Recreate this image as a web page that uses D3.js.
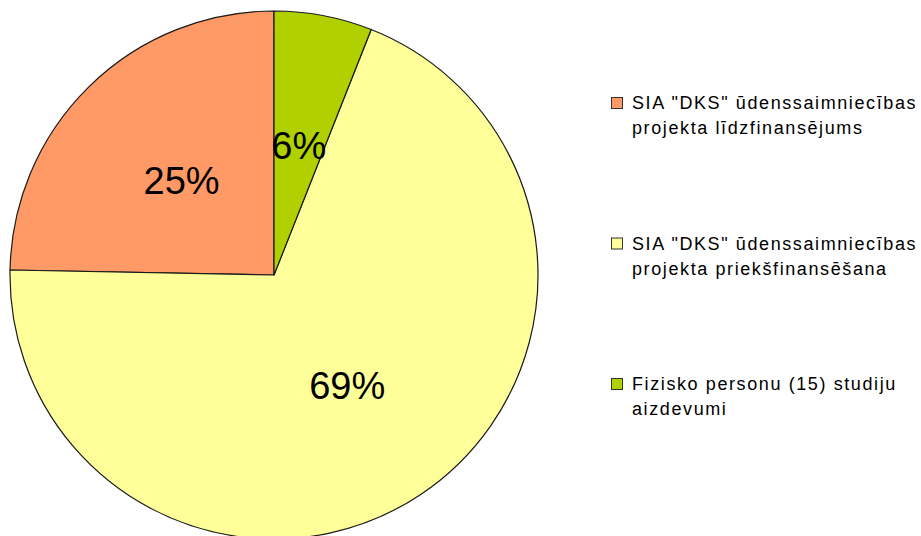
<!DOCTYPE html>
<html>
<head>
<meta charset="utf-8">
<script src="https://cdn.jsdelivr.net/npm/d3@7"></script>
<style>
  body { margin: 0; background: #fff; }
  svg { display: block; }
</style>
</head>
<body>
<div id="chart"></div>
<script>
// slice data (share in %)
var labels = [
    ['SIA "DKS" ūdenssaimniecības', "projekta līdzfinansējums"],
    ['SIA "DKS" ūdenssaimniecības', "projekta priekšfinansēšana"],
    ["Fizisko personu (15) studiju", "aizdevumi"]
];
var values = [24.7, 69.3, 6.0];
var colors = ["#ff9966", "#ffff99", "#b0d000"];

var width = 921, height = 536;
var cx = 274, cy = 275, radius = 264;

var svg = d3.select("#chart").append("svg")
    .attr("width", width)
    .attr("height", height);

var data = values.map(function (v, i) { return { value: v, label: labels[i], color: colors[i] }; });

// counter-clockwise from 12 o'clock, like the original
var pie = d3.pie()
    .sort(null)
    .value(function (d) { return d.value; })
    .startAngle(0)
    .endAngle(-2 * Math.PI);

var arc = d3.arc().innerRadius(0).outerRadius(radius);

var g = svg.append("g")
    .attr("transform", "translate(" + cx + "," + cy + ")");

var total = d3.sum(values);

var slices = g.selectAll("g.slice")
    .data(pie(data))
    .enter().append("g")
    .attr("class", "slice");

slices.append("path")
    .attr("d", arc)
    .attr("fill", function (d) { return d.data.color; })
    .attr("stroke", "#1a1a1a")
    .attr("stroke-width", 1.2)
    .attr("stroke-linejoin", "round");

slices.append("text")
    .attr("transform", function (d) { return "translate(" + arc.centroid(d) + ")"; })
    .attr("text-anchor", "middle")
    .attr("dy", "0.36em")
    .attr("font-family", "Liberation Sans, Arial, sans-serif")
    .attr("font-size", "38px")
    .attr("fill", "#000")
    .text(function (d) { return Math.round(d.data.value / total * 100) + "%"; });

// legend
var legendY = d3.scaleLinear().domain([0, 2]).range([103, 384]);

var legend = svg.selectAll("g.legend")
    .data(data)
    .enter().append("g")
    .attr("class", "legend")
    .attr("transform", function (d, i) { return "translate(611," + legendY(i) + ")"; });

legend.append("rect")
    .attr("x", 0.5)
    .attr("y", -5.5)
    .attr("width", 11)
    .attr("height", 11)
    .attr("fill", function (d) { return d.color; })
    .attr("stroke", "#333")
    .attr("stroke-width", 1);

legend.append("text")
    .attr("x", 21)
    .attr("font-family", "Liberation Sans, Arial, sans-serif")
    .attr("font-size", "18px")
    .attr("letter-spacing", "1.6px")
    .attr("fill", "#000")
    .selectAll("tspan")
    .data(function (d) { return d.label; })
    .enter().append("tspan")
    .attr("x", 21)
    .attr("y", function (d, i) { return 6 + i * 25; })
    .text(function (d) { return d; });
</script>
</body>
</html>
